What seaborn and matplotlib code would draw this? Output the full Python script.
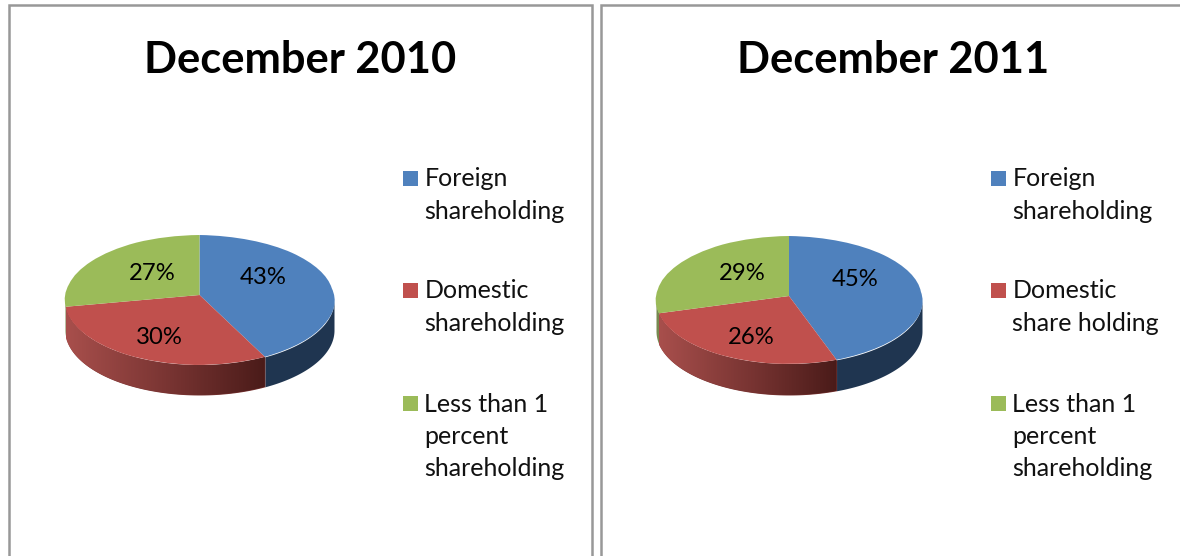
import numpy as np
import matplotlib
matplotlib.use('Agg')
import matplotlib.pyplot as plt
from matplotlib.colors import LinearSegmentedColormap
from matplotlib.patches import Rectangle
import seaborn as sns

titles = ['December 2010', 'December 2011']
values_2010 = [43, 30, 27]
values_2011 = [45, 26, 29]
legend_2010 = ['Foreign\nshareholding', 'Domestic\nshareholding', 'Less than 1\npercent\nshareholding']
legend_2011 = ['Foreign\nshareholding', 'Domestic\nshare holding', 'Less than 1\npercent\nshareholding']

sns.set_theme(style='white')
plt.rcParams['font.family'] = ['Lato', 'DejaVu Sans']

W, H = 1180, 556
colors = sns.color_palette(['#4F81BD', '#C0504D', '#9BBB59'])
side_blue = '#1F3550'
side_green = '#76894F'
red_side = LinearSegmentedColormap.from_list('red_side', ['#A84F4C', '#7A3533', '#4A1B19'])
warp_deg = 5  # perspective: the front of the disc looks wider than the back

fig = plt.figure(figsize=(W / 100, H / 100), dpi=100, facecolor='white')


def px_x(x):
    return x / W


def px_y(y):
    return 1 - y / H


def warp(th):
    return th + np.radians(warp_deg) * np.sin(2 * th)


def draw_side(ax, values, depth):
    ends = np.cumsum(values) / sum(values) * 360
    starts = np.r_[0, ends[:-1]]
    for i, (a, b) in enumerate(zip(starts, ends)):
        a, b = max(a, 90), min(b, 270)
        if a >= b:
            continue
        th = warp(np.radians(np.linspace(a, b, 80)))
        x = np.sin(th)
        y = np.cos(th)
        if i == 1:
            band = ax.fill_between(x, y, y - depth, color='#7A3533', lw=0, zorder=1)
            im = ax.imshow(np.linspace(0, 1, 256)[None, :], cmap=red_side, aspect='auto', zorder=1.5,
                           extent=[x.min(), x.max(), (y - depth).min(), y.max()])
            im.set_clip_path(band.get_paths()[0], ax.transData)
        else:
            ax.fill_between(x, y, y - depth, color=side_blue if i == 0 else side_green, lw=0, zorder=1)


def draw_pie(values, cx, rx, cy, ry, depth_px, apex_px, offsets):
    # axes in pixel box so that one data unit is rx wide and ry tall
    pad = 1.03
    y_low = -1 - depth_px / ry - 0.03
    left, right = cx - rx * pad, cx + rx * pad
    top, bottom = cy - ry * pad, cy - ry * y_low
    ax = fig.add_axes([px_x(left), px_y(bottom), px_x(right - left), px_y(top) - px_y(bottom)])
    wedges, _, autotexts = ax.pie(values, colors=colors, startangle=90, counterclock=False,
                                  autopct='%d%%', radius=1, wedgeprops={'lw': 0, 'zorder': 2},
                                  textprops={'fontsize': 17.2, 'color': 'black', 'zorder': 3})
    # the apex sits above the middle of the rim, same perspective
    for w in wedges:
        v = w.get_path().vertices
        r = np.hypot(v[:, 0], v[:, 1])
        th = warp(np.arctan2(v[:, 0], v[:, 1]))
        v[:, 0] = r * np.sin(th)
        v[:, 1] = r * np.cos(th)
        v[r < 1e-6, 1] += apex_px / ry
    for t, (px, py) in zip(autotexts, offsets):
        t.set_position(((px - cx) / rx, (cy - py) / ry))
    draw_side(ax, values, depth_px / ry)
    ax.set_aspect('auto')
    ax.set_xlim(-pad, pad)
    ax.set_ylim(y_low, pad)
    return ax


def draw_legend(labels, x_box, x_text, rows):
    for i, (lab, y) in enumerate(zip(labels, rows)):
        fig.add_artist(Rectangle((px_x(x_box), px_y(y + 8)), 15 / W, 15 / H, transform=fig.transFigure,
                                 fc=colors[i], ec='none'))
        for k, line in enumerate(lab.split('\n')):
            fig.text(px_x(x_text), px_y(y + 1 + k * 32.5), line, fontsize=18, color='#111111',
                     ha='left', va='center')


# panel frames, their bottoms are cut off by the page
for x0, x1 in [(8.5, 592), (600.5, 1240)]:
    fig.add_artist(Rectangle((px_x(x0), px_y(620)), (x1 - x0) / W, 615 / H, transform=fig.transFigure,
                             fc='none', ec='#989898', lw=1.8))

draw_pie(values_2010, 199.5, 134.5, 300, 65, 30, 5, [(263.5, 277), (159, 337), (152, 273)])
draw_pie(values_2011, 789, 133, 300, 64, 31, 4, [(855.5, 280), (751.5, 337), (742, 273)])

fig.text(px_x(300.5), px_y(60), titles[0], fontsize=31.2, fontweight='bold', ha='center', va='center', color='black')
fig.text(px_x(893), px_y(60), titles[1], fontsize=31.2, fontweight='bold', ha='center', va='center', color='black')

draw_legend(legend_2010, 403, 424.5, [178, 290, 403])
draw_legend(legend_2011, 991, 1012.5, [178, 290, 403])

fig.savefig('out.png', dpi=100)
